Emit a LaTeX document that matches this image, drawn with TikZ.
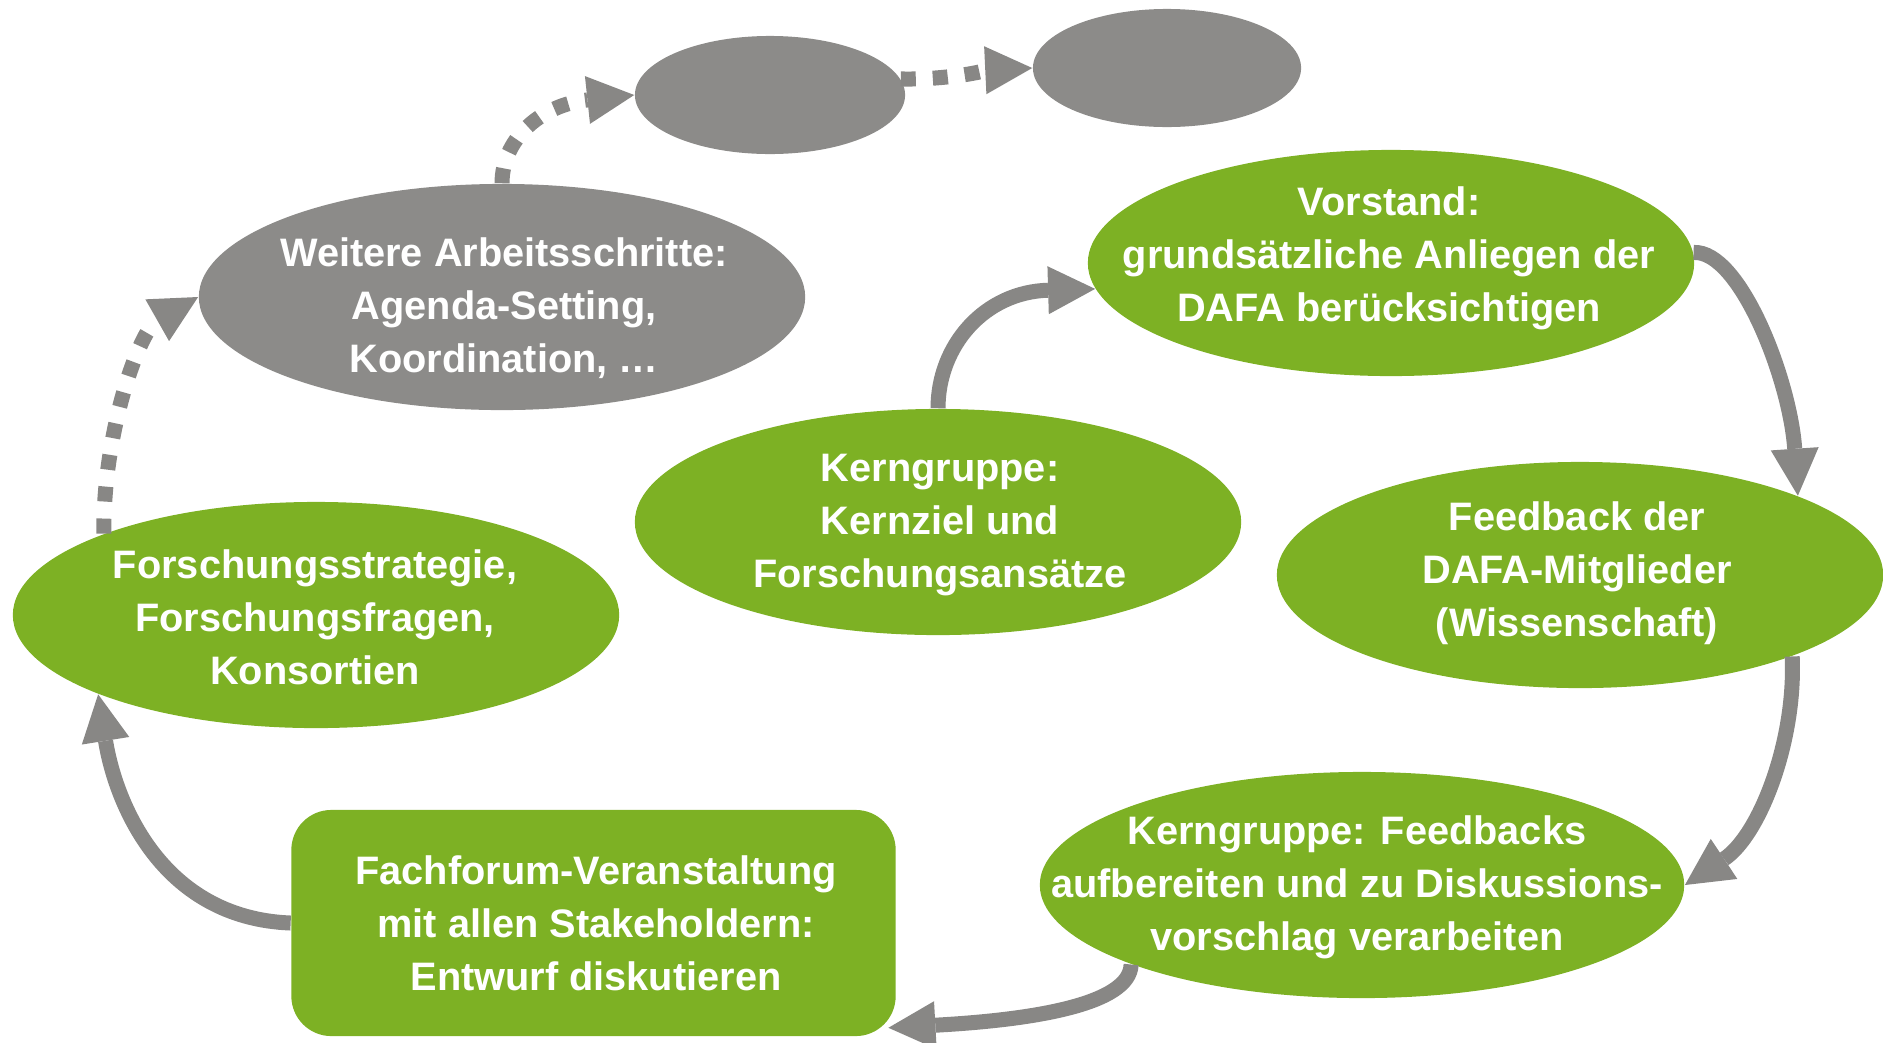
\documentclass[tikz,border=0pt]{standalone}
\usepackage{fontspec}
\setmainfont{Liberation Sans}
\usetikzlibrary{arrows.meta,shapes.geometric,calc}
\definecolor{dgreen}{RGB}{125,177,36}
\definecolor{dgray}{RGB}{140,139,137}
\definecolor{agray}{RGB}{136,135,133}
\begin{document}
\begin{tikzpicture}[x=0.01cm,y=-0.01cm,
  ell/.style={ellipse, minimum width=6.06cm, minimum height=2.26cm, inner sep=0pt, draw=none},
  gell/.style={ell, fill=dgreen},
  grell/.style={ell, fill=dgray},
  boxnode/.style={rectangle, rounded corners=0.4cm, fill=dgreen, minimum width=6.04cm, minimum height=2.26cm, inner sep=0pt},
  lbl/.style={text=white, font=\bfseries\fontsize{11.3pt}{15.1pt}\selectfont, align=center, inner sep=0pt},
  arr/.style={draw=agray, line width=0.15cm, -{Triangle[length=0.47cm,width=0.48cm,line width=0pt]}},
  darr/.style={arr, dash pattern=on 0.15cm off 0.17cm},
]
\useasboundingbox (0,0) rectangle (1883,1042);

% nodes
\node[grell, minimum width=2.70cm, minimum height=1.18cm] (g1) at (770,95) {};
\node[grell, minimum width=2.68cm, minimum height=1.18cm] (g2) at (1167,68) {};
\node[grell] (wa) at (502,297) {};
\node[gell] (vor) at (1391,263) {};
\node[gell] (kz) at (938,522) {};
\node[gell] (fb) at (1580,575) {};
\node[gell] (fs) at (316,615) {};
\node[gell, minimum width=6.44cm] (kf) at (1362,885) {};
\node[boxnode] (ff) at (593.5,923) {};

% labels
\node[lbl] (wat) at (504,308) {Weitere Arbeitsschritte:\\Agenda-Setting,\\Koordination, …};
\node[lbl] (vort) at (1389,258) {Vorstand:\\grundsätzliche Anliegen der\\DAFA berücksichtigen};
\node[lbl] (kzt) at (940,525) {Kerngruppe:\\Kernziel und\\Forschungsansätze};
\node[lbl] (fbt) at (1577,573) {Feedback der\\DAFA-Mitglieder\\(Wissenschaft)};
\node[lbl] (fst) at (315,617) {Forschungsstrategie,\\Forschungsfragen,\\Konsortien};
\node[lbl] (kft) at (1357,887) {Kerngruppe: Feedbacks\\aufbereiten und zu Diskussions-\\vorschlag verarbeiten};
\node[lbl] (fft) at (596,923) {Fachforum-Veranstaltung\\mit allen Stakeholdern:\\Entwurf diskutieren};

% solid connectors
\draw[arr] (kz.north) .. controls (938,345) and (985,292) .. (vor.185);
\draw[arr] (vor.2) .. controls (1740,250) and (1790,380) .. (fb.20.5);
\draw[arr] (fb.339.5) .. controls (1796,740) and (1760,835) .. (kf.east);
\draw[arr] (kf.199.4) .. controls (1130,1005) and (1030,1020) .. ($(ff.south east)+(-8,-9)$);
\draw[arr] (ff.west) .. controls (160,918) and (115,800) .. (fs.200.5);

% dashed connectors
\draw[darr] (fs.159.4) .. controls (103,430) and (140,330) .. (wa.west);
\draw[darr] (wa.north) .. controls (502,140) and (540,105) .. (g1.west);
\draw[darr] (g1.7.6) .. controls (950,80) and (990,70) .. (g2.west);
\end{tikzpicture}
\end{document}
